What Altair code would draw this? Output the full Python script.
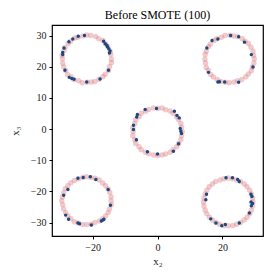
import altair as alt
import pandas as pd

# Majority (pink) points, per ring
maj_x_tl = [-14.2, -14.4, -14.6, -15.3, -16.0, -16.8, -18.1, -19.1, -20.6, -21.8, -23.0, -24.5, -25.5, -26.8, -27.5, -28.5, -28.8, -29.4, -29.3, -29.2, -28.9, -28.3, -27.7, -26.6, -25.7, -24.3, -23.2, -21.7, -20.4, -19.3, -18.0, -16.8, -16.1, -15.1, -14.8, -14.2]
maj_y_tl = [22.4, 23.9, 25.0, 26.4, 27.3, 28.4, 29.0, 29.7, 30.0, 30.2, 29.9, 29.5, 29.2, 28.2, 27.5, 26.2, 25.2, 23.7, 22.6, 21.1, 19.9, 18.8, 17.5, 16.8, 15.8, 15.5, 14.9, 15.0, 15.1, 15.3, 16.0, 16.8, 17.6, 18.8, 20.0, 21.3]
maj_x_tr = [29.8, 29.6, 29.4, 28.8, 28.0, 27.0, 26.1, 24.7, 23.4, 22.3, 20.8, 19.7, 18.3, 17.4, 16.3, 15.7, 15.0, 14.7, 14.6, 14.8, 15.0, 15.7, 16.4, 17.2, 18.4, 19.5, 20.9, 22.1, 23.6, 24.7, 26.0, 27.2, 28.0, 28.9, 29.2, 29.7]
maj_y_tr = [22.6, 23.7, 25.0, 26.3, 27.5, 28.2, 29.0, 29.7, 29.9, 30.1, 30.0, 29.5, 29.0, 28.4, 27.3, 26.4, 25.0, 23.9, 22.4, 21.2, 19.8, 18.8, 17.5, 16.7, 15.9, 15.3, 15.0, 14.9, 15.1, 15.5, 15.9, 16.8, 17.7, 18.7, 19.9, 21.2]
maj_x_m = [7.6, 7.4, 7.2, 6.5, 5.9, 4.8, 3.9, 2.5, 1.4, 0.1, -1.2, -2.7, -3.7, -5.0, -5.7, -6.7, -7.0, -7.6, -7.5, -7.6, -7.0, -6.7, -5.7, -5.0, -3.7, -2.7, -1.2, 0.1, 1.4, 2.5, 3.9, 4.8, 5.9, 6.5, 7.2, 7.4]
maj_y_m = [-0.8, 0.6, 1.8, 3.1, 4.0, 5.1, 5.8, 6.2, 6.8, 6.7, 6.8, 6.3, 5.7, 5.1, 4.0, 3.0, 1.8, 0.5, -0.8, -2.1, -3.4, -4.6, -5.7, -6.6, -7.4, -7.9, -8.3, -8.5, -8.3, -8.0, -7.4, -6.6, -5.7, -4.6, -3.4, -2.1]
maj_x_bl = [-14.3, -14.3, -14.7, -15.2, -16.0, -16.9, -18.0, -19.2, -20.5, -21.9, -23.0, -24.4, -25.6, -26.7, -27.6, -28.4, -28.9, -29.3, -29.5, -29.2, -28.9, -28.3, -27.6, -26.7, -25.6, -24.4, -23.1, -21.8, -20.4, -19.3, -17.9, -16.9, -16.0, -15.2, -14.8, -14.2]
maj_y_bl = [-23.0, -21.7, -20.3, -19.2, -18.2, -17.3, -16.3, -15.8, -15.5, -15.3, -15.5, -15.9, -16.5, -17.2, -18.2, -19.1, -20.4, -21.8, -23.0, -24.3, -25.6, -26.8, -27.9, -28.8, -29.7, -30.1, -30.6, -30.6, -30.5, -30.0, -29.5, -28.8, -27.9, -26.8, -25.6, -24.3]
maj_x_br = [29.4, 29.3, 28.9, 28.4, 27.6, 26.7, 25.6, 24.4, 23.1, 21.8, 20.5, 19.3, 17.9, 16.9, 15.9, 15.2, 14.7, 14.3, 14.2, 14.3, 14.7, 15.2, 16.0, 16.9, 18.0, 19.1, 20.5, 21.8, 23.2, 24.4, 25.6, 26.7, 27.6, 28.4, 28.9, 29.3]
maj_y_br = [-23.4, -22.1, -20.8, -19.6, -18.5, -17.6, -16.8, -16.3, -15.9, -15.7, -15.9, -16.3, -16.8, -17.6, -18.5, -19.6, -20.8, -22.1, -23.4, -24.7, -26.0, -27.2, -28.3, -29.2, -30.0, -30.5, -30.9, -31.0, -30.9, -30.5, -30.0, -29.2, -28.3, -27.2, -26.0, -24.7]

# Minority (dark blue) points
min_x = [-26.1, -24.4, -22.5, -27.3, -28.8, -29.2, -29.2, -16.6, -16.1, -15.6, -15.4, -15.0, -14.6, -14.8, -28.5, -27.2, -26.4, -25.7, -21.8, -17.7, -15.1,
         16.8, 18.6, 22.5, 25.0, 26.8, 15.2, 28.9, 29.4, 15.7, 18.6, 19.1, 20.7, 25.0,
         -3.8, -0.3, -6.2, -6.4, -7.4, -7.4, -6.5, -3.1, 0.0, 4.9, 6.5, 7.0, 7.2, 7.4, 5.2, 6.0, 6.7,
         -24.5, -22.9, -20.7, -19.0, -27.6, -28.9, -15.2, -14.5, -28.3, -27.4, -24.5, -24.0, -20.4, -17.3, -16.8, -16.5,
         21.1, 23.1, 24.7, 25.2, 15.1, 14.9, 28.8, 29.1, 28.8, 29.3, 28.9, 28.3, 16.4, 18.0, 19.8, 20.9, 25.2]
min_y = [28.9, 29.8, 30.0, 28.0, 26.0, 24.6, 23.9, 28.2, 27.4, 26.9, 26.4, 25.8, 25.1, 24.4, 18.9, 16.6, 16.2, 16.0, 15.1, 16.1, 18.9,
         28.4, 28.9, 30.0, 29.6, 27.9, 26.0, 23.9, 19.9, 18.2, 15.1, 15.2, 15.1, 15.0,
         6.3, 6.6, 4.7, 3.9, 1.2, -0.1, -3.4, -7.3, -8.0, -7.1, -4.7, 0.2, -0.7, -1.4, 5.7, 4.4, 3.6,
         -15.8, -15.5, -15.3, -16.2, -19.4, -21.2, -19.4, -24.4, -27.6, -28.9, -30.1, -30.4, -30.8, -29.5, -29.2, -28.9,
         -15.6, -15.6, -16.2, -16.8, -20.9, -22.7, -20.9, -21.6, -23.4, -23.9, -24.6, -26.9, -28.8, -30.1, -31.0, -30.6, -30.1]

x_ticks = [-20, 0, 20]
y_ticks = [-30, -20, -10, 0, 10, 20, 30]

maj = pd.DataFrame({
    "x": maj_x_tl + maj_x_tr + maj_x_m + maj_x_bl + maj_x_br,
    "y": maj_y_tl + maj_y_tr + maj_y_m + maj_y_bl + maj_y_br,
})
mino = pd.DataFrame({"x": min_x, "y": min_y})

FONT = "Liberation Serif"
xs = alt.Scale(domain=[-32.5, 32.5], nice=False, zero=False)
ys = alt.Scale(domain=[-34.3, 33.4], nice=False, zero=False)


def xax():
    return alt.Axis(values=x_ticks, title="x₂", grid=False, tickSize=3, labelPadding=3,
                    titlePadding=3, domain=False, labelOverlap=False)


def yax():
    return alt.Axis(values=y_ticks, title="x₃", grid=False, tickSize=3,
                    labelPadding=3, titlePadding=10, domain=False, labelOverlap=False)


pink = alt.Chart(maj).mark_circle(size=30, opacity=0.38, color="#d8747a").encode(
    x=alt.X("x:Q", scale=xs, axis=xax()),
    y=alt.Y("y:Q", scale=ys, axis=yax()),
)
blue = alt.Chart(mino).mark_circle(size=12, opacity=1, color="#1c4a80").encode(
    x=alt.X("x:Q", scale=xs, axis=xax()),
    y=alt.Y("y:Q", scale=ys, axis=yax()),
)

chart = alt.layer(pink, blue).properties(
    width=211, height=211,
    title=alt.TitleParams("Before SMOTE (100)", font=FONT, fontSize=12, fontWeight="normal", offset=3),
    autosize=alt.AutoSizeParams(type="none"),
    padding={"left": 44, "top": 17, "right": 1, "bottom": 34},
).configure_view(stroke="black", strokeWidth=1.2).configure_axis(
    labelFont=FONT, titleFont=FONT, labelFontSize=10, titleFontSize=11,
    labelColor="#222", titleColor="#222", tickColor="black", titleFontWeight="normal",
    labelOverlap=False
)

chart.save("out.html", embed_options={"renderer": "svg", "actions": False})
